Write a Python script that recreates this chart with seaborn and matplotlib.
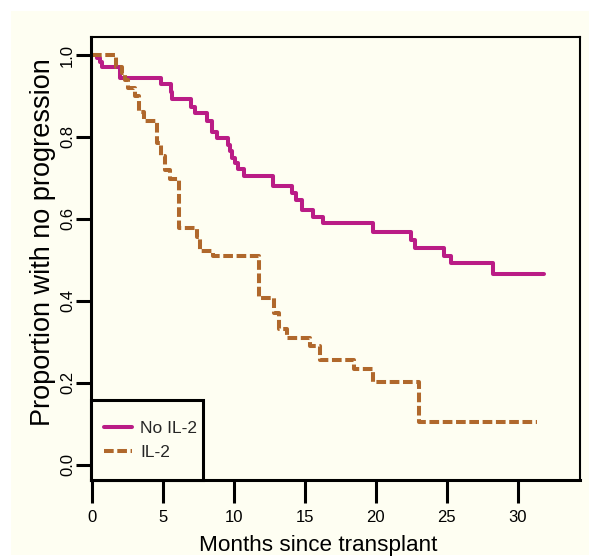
import matplotlib
matplotlib.use("Agg")
import matplotlib.pyplot as plt
from matplotlib import font_manager as fm
from matplotlib.patches import Rectangle
import seaborn as sns
import pandas as pd

# ---- data ----
no_il2_months = [0, 0.35, 0.55, 0.7, 2.0, 4.86, 5.56, 5.68, 6.97, 7.3, 8.1, 8.5, 8.8,
                 9.6, 9.74, 9.85, 10.1, 10.3, 10.7, 12.8, 14.1, 14.4, 14.8, 15.6, 16.3,
                 19.8, 22.5, 22.8, 24.8, 25.3, 28.3, 31.85]
no_il2_surv = [1.0, 0.992, 0.984, 0.972, 0.943, 0.929, 0.911, 0.893, 0.874, 0.858, 0.838,
               0.813, 0.797, 0.781, 0.765, 0.749, 0.736, 0.722, 0.706, 0.681, 0.664, 0.647,
               0.623, 0.605, 0.589, 0.569, 0.548, 0.53, 0.509, 0.493, 0.465, 0.465]

il2_months = [0, 1.7, 2.16, 2.35, 2.58, 3.05, 3.33, 3.68, 4.62, 4.86, 5.14, 5.5, 6.15,
              7.4, 7.6, 8.55, 11.8, 12.85, 13.2, 13.75, 15.4, 16.1, 18.5, 19.8, 23.05, 31.4]
il2_surv = [1.0, 0.97, 0.955, 0.94, 0.92, 0.899, 0.862, 0.838, 0.785, 0.753, 0.72, 0.698,
            0.578, 0.555, 0.521, 0.509, 0.406, 0.37, 0.331, 0.309, 0.289, 0.255, 0.235,
            0.203, 0.105, 0.105]

group_labels = ["No IL-2", "IL-2"]
x_ticks = [0, 5, 10, 15, 20, 25, 30]
y_ticks = [0.0, 0.2, 0.4, 0.6, 0.8, 1.0]
y_tick_labels = ["0.0", "0.2", "0.4", "0.6", "0.8", "1.0"]
x_label = "Months since transplant"
y_label = "Proportion with no progression"

# ---- style ----
def pick(fams):
    for f in fams:
        try:
            fm.findfont(fm.FontProperties(family=f), fallback_to_default=False)
            return f
        except Exception:
            pass
    return "DejaVu Sans"

sns.set_theme(style="ticks")
regular = pick(["Liberation Sans", "Arial"])
plt.rcParams["font.family"] = [regular, "DejaVu Sans"]

cream = "#FEFEF2"
magenta = "#BA1C86"
brown = "#B0682C"

W, H = 589, 557
fig = plt.figure(figsize=(W / 100, H / 100), dpi=100, facecolor="white")
fig.patches.append(Rectangle((11 / W, 2 / H), 1 - 11 / W, 1 - 13 / H,
                             transform=fig.transFigure, facecolor=cream,
                             edgecolor="none", zorder=-10))
ax_l, ax_r, ax_t, ax_b = 91, 580, 37, 480
ax = fig.add_axes([ax_l / W, 1 - ax_b / H, (ax_r - ax_l) / W, (ax_b - ax_t) / H])
ax.set_facecolor(cream)

df1 = pd.DataFrame({"t": no_il2_months, "s": no_il2_surv})
df2 = pd.DataFrame({"t": il2_months, "s": il2_surv})
sns.lineplot(data=df1, x="t", y="s", ax=ax, color=magenta, lw=2.9,
             drawstyle="steps-post", errorbar=None, label=group_labels[0])
sns.lineplot(data=df2, x="t", y="s", ax=ax, color=brown, lw=2.9,
             drawstyle="steps-post", errorbar=None, label=group_labels[1],
             linestyle=(0, (2.4, 0.9)))

ax.set_xlim(-0.05, 34.4)
ax.set_ylim(-0.037, 1.044)
ax.set_xticks(x_ticks)
ax.set_xticklabels([str(v) for v in x_ticks], fontsize=12)
ax.set_yticks(y_ticks)
ax.set_yticklabels(y_tick_labels, fontsize=12, rotation=90, va="center")

for side in ["left", "bottom"]:
    ax.spines[side].set_linewidth(2.2)
for side in ["top", "right"]:
    ax.spines[side].set_linewidth(1.5)
for sp in ax.spines.values():
    sp.set_color("black")
    sp.set_visible(True)

ax.tick_params(axis="x", length=16.5, width=2.2, pad=5, colors="black", direction="out")
ax.tick_params(axis="y", length=11, width=2.2, pad=0.5, colors="black", direction="out")

ax.set_xlabel(x_label, fontsize=16.2, color="black")
ax.set_ylabel(y_label, fontsize=19.5, color="black", va="center")
ax.xaxis.set_label_coords(0.465, -0.147)
ax.yaxis.set_label_coords(-0.098, 0.536)
ax.xaxis.label.set_va("center")

# legend box (drawn as a frame in axes coordinates) + frameless legend inside
aw, ah = ax_r - ax_l, ax_b - ax_t
ax.add_patch(Rectangle((0, 0), (203 - ax_l) / aw, (ax_b - 400) / ah,
                       transform=ax.transAxes, facecolor=cream, edgecolor="black",
                       lw=2.2, zorder=5, clip_on=False))
leg = ax.legend(loc="upper left", bbox_to_anchor=((104 - ax_l) / aw, (ax_b - 421) / ah),
                borderaxespad=0, borderpad=0, frameon=False, fontsize=12.5,
                handlelength=1.6, handletextpad=0.5, labelspacing=0.5)
leg.set_zorder(6)

fig.savefig("out.png", dpi=100, facecolor="white")
